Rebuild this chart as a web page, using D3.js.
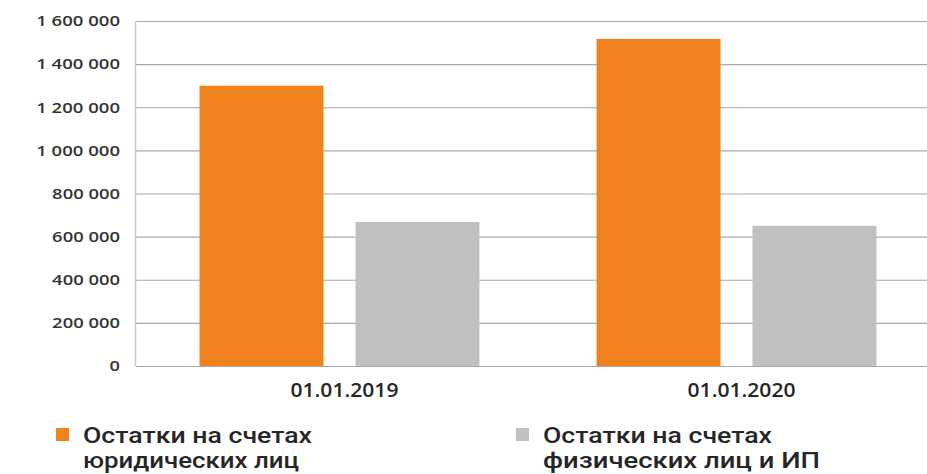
<!DOCTYPE html>
<html><head><meta charset="utf-8">
<script src="https://cdn.jsdelivr.net/npm/d3@7"></script>
<style>
html,body{margin:0;padding:0;background:#fff;}
svg{display:block;}
</style></head>
<body>
<svg id="c" width="927" height="474"></svg>
<script>
const categories = ["01.01.2019", "01.01.2020"];
const seriesNames = ["Остатки на счетах юридических лиц", "Остатки на счетах физических лиц и ИП"];
const legalEntities = [1300000, 1517000];
const individuals = [668000, 650000];
const yTicks = [0, 200000, 400000, 600000, 800000, 1000000, 1200000, 1400000, 1600000];
const legendLines = [["Остатки на счетах", "юридических лиц"], ["Остатки на счетах", "физических лиц и ИП"]];
const colors = ["#EF821E", "#BFC1C0"];

(function () {
const svg = d3.select("#c");
const mLeft = 136, mRight = 940, mTop = 21, mBottom = 366;

const y = d3.scaleLinear().domain([0, 1600000]).range([mBottom, mTop]);
const x0 = d3.scaleBand().domain(categories).range([mLeft, mRight]).paddingInner(0.295).paddingOuter(0.16);
const x1 = d3.scaleBand().domain([0, 1]).range([0, x0.bandwidth()]).paddingInner(0.205).paddingOuter(0);

const fmt = v => d3.format(",")(v).replace(/,/g, " ");

const yAxis = d3.axisLeft(y).tickValues(yTicks).tickSize(-(927 - mLeft)).tickFormat(fmt).tickPadding(16);
const g = svg.append("g").attr("transform", `translate(${mLeft},0)`).call(yAxis);
g.select(".domain").remove();
g.selectAll(".tick line").attr("stroke", "#A8A8A8").attr("stroke-width", 1.2);
g.selectAll(".tick text").attr("fill", "#333").style("font-family", "'Open Sans', sans-serif")
  .style("font-size", "15px").style("font-weight", 600)
  .attr("textLength", function () {
    const t = this.textContent;
    const digits = t.replace(/ /g, "").length;
    const spaces = t.length - digits;
    return digits * 10.4 + spaces * 5.5;
  })
  .attr("lengthAdjust", "spacingAndGlyphs");

svg.append("line").attr("x1", mLeft - 0.5).attr("x2", mLeft - 0.5).attr("y1", mTop).attr("y2", mBottom)
  .attr("stroke", "#C8C8C8").attr("stroke-width", 1.5);

const data = categories.map((c, i) => ({c, vals: [legalEntities[i], individuals[i]]}));
const groups = svg.append("g").selectAll("g").data(data).join("g")
  .attr("transform", d => `translate(${x0(d.c)},0)`);
groups.selectAll("rect").data(d => d.vals.map((v, k) => ({v, k}))).join("rect")
  .attr("x", d => x1(d.k)).attr("width", x1.bandwidth())
  .attr("y", d => y(d.v)).attr("height", d => y(0) - y(d.v))
  .attr("fill", d => colors[d.k]);

svg.append("g").selectAll("text").data(categories).join("text")
  .attr("x", d => x0(d) + x0.bandwidth() / 2 + 5).attr("y", 397)
  .attr("text-anchor", "middle").attr("fill", "#262626")
  .style("font-family", "'Open Sans', sans-serif").style("font-size", "19px").style("font-weight", 600)
  .attr("textLength", 108).attr("lengthAdjust", "spacingAndGlyphs")
  .text(d => d);

const legX = [56, 516];
seriesNames.forEach((name, i) => {
  const lg = svg.append("g");
  lg.append("rect").attr("x", legX[i]).attr("y", 428).attr("width", 13).attr("height", 13).attr("fill", colors[i]);
  const lens = i === 0 ? [229, 216] : [229, 277];
  legendLines[i].forEach((ln, j) => {
    lg.append("text").attr("x", legX[i] + 27).attr("y", 443 + j * 25)
      .attr("fill", "#262626").style("font-family", "Roboto, sans-serif")
      .style("font-size", "21.5px").style("font-weight", 500)
      .attr("textLength", lens[j]).attr("lengthAdjust", "spacingAndGlyphs")
      .text(ln);
  });
});
})();
</script>
</body></html>
